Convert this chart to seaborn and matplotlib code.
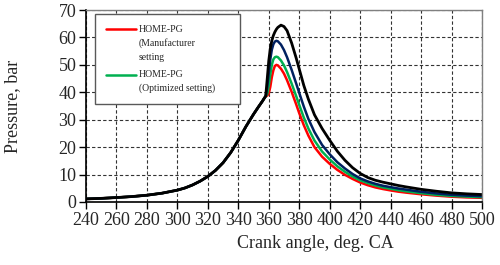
import pandas as pd
import matplotlib
matplotlib.use("Agg")
import matplotlib.pyplot as plt
from matplotlib.legend_handler import HandlerLine2D
import seaborn as sns

# crank angle (deg. CA) shared by all curves
crank_angle = [240, 250, 260, 270, 280, 290, 300, 305, 310, 315, 320, 325, 330, 335,
               340, 345, 348, 350, 353, 355, 356, 357, 358,
               359, 360, 361, 362, 363, 364, 365, 366, 368, 370, 372, 375, 378, 380,
               383, 386, 390, 395, 400, 405, 410, 415, 420, 425, 430, 435, 440, 445,
               450, 460, 470, 480, 490, 500]

# shared compression part up to ~358 deg
compression = [1.1, 1.3, 1.6, 1.95, 2.45, 3.2, 4.3, 5.1, 6.2, 7.6, 9.3, 11.5, 14.3, 18.0,
               22.5, 27.5, 30.2, 32.0, 34.5, 36.1, 36.9, 37.8, 38.6]

black_p = compression + [45.0, 51.5, 56.0, 58.8, 60.7, 62.0, 63.0, 63.7,
                         64.5, 64.0, 62.5, 58.0, 52.5, 48.5, 42.5, 37.5, 31.8, 26.8,
                         22.5, 18.5, 15.2, 12.5, 10.4, 8.9, 7.9, 7.2, 6.6, 6.0, 5.5,
                         4.6, 3.9, 3.3, 2.95, 2.7]
blue_p = compression + [42.0, 47.0, 52.0, 55.5, 57.5, 58.5, 58.8, 58.6,
                        57.4, 55.4, 52.8, 48.2, 43.2, 39.8, 34.8, 30.3, 25.5, 20.8,
                        17.4, 14.5, 12.2, 10.2, 8.6, 7.5, 6.6, 5.9, 5.4, 4.9, 4.5,
                        3.7, 3.1, 2.6, 2.3, 2.1]
green_p = compression + [39.5, 42.5, 46.5, 50.0, 52.0, 52.8, 53.0, 52.8,
                         51.6, 49.8, 47.4, 43.2, 38.6, 35.4, 30.8, 26.8, 22.4, 18.4,
                         15.5, 13.0, 11.0, 9.3, 7.9, 6.9, 6.0, 5.3, 4.8, 4.3, 3.9,
                         3.2, 2.6, 2.2, 1.95, 1.75]
red_p = compression + [38.8, 39.5, 42.0, 45.5, 48.0, 49.6, 50.0, 49.8,
                       48.6, 46.8, 44.4, 40.2, 35.6, 32.4, 28.0, 24.2, 20.0, 16.5,
                       13.9, 11.7, 9.9, 8.4, 7.1, 6.1, 5.3, 4.7, 4.2, 3.75, 3.4,
                       2.8, 2.3, 1.9, 1.65, 1.5]

legend_labels = ["HOME-PG\n(Manufacturer\nsetting", "HOME-PG\n(Optimized setting)"]

df = pd.DataFrame({"angle": crank_angle, "black": black_p, "blue": blue_p,
                   "green": green_p, "red": red_p})


class TopLineHandler(HandlerLine2D):
    """Put the legend line next to the first text line instead of the middle."""
    def __init__(self, shift, **kw):
        super().__init__(**kw)
        self.shift = shift

    def create_artists(self, legend, orig_handle, xdescent, ydescent, width,
                       height, fontsize, trans):
        artists = super().create_artists(legend, orig_handle, xdescent, ydescent,
                                         width, height, fontsize, trans)
        for a in artists:
            a.set_ydata([y + self.shift for y in a.get_ydata()])
        return artists


sns.set_style("white")
plt.rcParams["font.family"] = ["Liberation Serif", "DejaVu Serif"]

fig = plt.figure(figsize=(5.0, 2.65), dpi=100)
ax = fig.add_axes([0.172, 0.238, 0.792, 0.724])

sns.lineplot(data=df, x="angle", y="red", color="#ff0000", lw=1.8, ax=ax,
             label=legend_labels[0])
sns.lineplot(data=df, x="angle", y="green", color="#00b050", lw=1.8, ax=ax,
             label=legend_labels[1])
sns.lineplot(data=df, x="angle", y="blue", color="#002060", lw=1.8, ax=ax)
sns.lineplot(data=df, x="angle", y="black", color="black", lw=2.0, ax=ax)

ax.set_xlim(240, 500)
ax.set_ylim(0, 70)
ax.set_xticks(range(240, 501, 20))
ax.set_yticks(range(0, 71, 10))
ax.grid(True, color="0.2", linestyle=(0, (3, 2)), lw=0.8)
ax.tick_params(axis="both", labelsize=13, direction="out", length=5, width=1,
               color="black", pad=2, bottom=True, left=True)
for side in ["left", "bottom"]:
    ax.spines[side].set_color("black")
    ax.spines[side].set_linewidth(1.2)
for side in ["top", "right"]:
    ax.spines[side].set_color("0.5")
    ax.spines[side].set_linewidth(1.0)

ax.set_xlabel("Crank angle, deg. CA", fontsize=13, labelpad=3)
ax.xaxis.set_label_coords(0.58, -0.17)
ax.set_ylabel("Pressure, bar", fontsize=13, labelpad=27)

handles, labels = ax.get_legend_handles_labels()
hmap = {handles[0]: TopLineHandler(10.0), handles[1]: TopLineHandler(5.0)}
leg = ax.legend(handles, labels, handler_map=hmap, loc="upper left",
                bbox_to_anchor=(0.023, 0.979, 0.366, 0.0), mode="expand",
                borderaxespad=0, fontsize=7, handlelength=3.1, handletextpad=0.3,
                borderpad=1.1, labelspacing=0.9, frameon=True, fancybox=False)
leg.get_frame().set_edgecolor("0.35")
leg.get_frame().set_linewidth(1.0)
leg.get_frame().set_alpha(1)
for t in leg.get_texts():
    t.set_linespacing(1.6)

fig.savefig("out.png", dpi=100)
